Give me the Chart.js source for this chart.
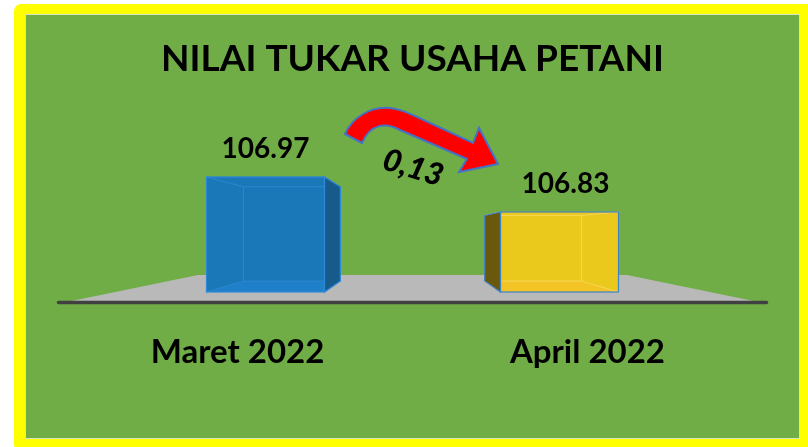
<!DOCTYPE html>
<html>
<head>
<meta charset="utf-8">
<script src="https://cdn.jsdelivr.net/npm/chart.js@4.4.1/dist/chart.umd.min.js"></script>
<style>
  html, body { margin: 0; padding: 0; background: #fff; }
  #wrap { width: 808px; height: 447px; }
</style>
</head>
<body>
<div id="wrap"><canvas id="ntup" width="808" height="447"></canvas></div>
<script>
// ---- data ----
const chartTitle = "NILAI TUKAR USAHA PETANI";
const periods = ["Maret 2022", "April 2022"];
const ntupValues = [106.97, 106.83];
const changeLabel = "0,13";
const axisMin = 106.51;
const axisMax = 107.2;

// ---- look ----
const FONT = "Lato, 'Open Sans', sans-serif";
const faces = [
  { front: "#1a78b9", side: "#165b89", bottom: "#1f80c9", inner: "#2b86cf", edge: "#2f88d6" },
  { front: "#eac81c", side: "#6a580c", bottom: "#f3c425", inner: "#f6d75a", edge: "#3f82cc" }
];
const DEPTH = 0.82; // back face scale towards vanishing point

// vanishing point sits between the two bars, a bit above the base
function vanish(chart) {
  const pts = chart.getDatasetMeta(0).data;
  return { x: (pts[0].x + pts[1].x) / 2, y: chart.scales.y.bottom - 61 };
}

const scenePlugin = {
  id: "scene",
  beforeDraw(chart) {
    const ctx = chart.ctx;
    const V = vanish(chart);
    const base = chart.scales.y.bottom;
    ctx.save();
    ctx.fillStyle = "#ffffff";
    ctx.fillRect(0, 0, chart.width, chart.height);

    // yellow frame + green panel
    ctx.fillStyle = "#ffff00";
    ctx.beginPath();
    ctx.roundRect(14, 4, chart.width, chart.height, 7);
    ctx.fill();
    ctx.fillStyle = "#70ad47";
    ctx.fillRect(25, 14, 775, 425);
    ctx.strokeStyle = "rgba(235,245,225,0.8)";
    ctx.lineWidth = 1;
    ctx.strokeRect(25.5, 14.5, 774, 424);

    // title
    ctx.fillStyle = "#000";
    ctx.font = "bold 37px " + FONT;
    ctx.textAlign = "center";
    ctx.textBaseline = "alphabetic";
    ctx.fillText(chartTitle, V.x, 71);

    // floor in perspective
    const botY = base + 10, topY = base - 17;
    const half = 346;
    const t = (topY - V.y) / (botY - V.y);
    ctx.fillStyle = "#b9b9b9";
    ctx.beginPath();
    ctx.moveTo(V.x - half, botY);
    ctx.lineTo(V.x - half * t, topY);
    ctx.lineTo(V.x + half * t, topY);
    ctx.lineTo(V.x + half, botY);
    ctx.closePath();
    ctx.fill();
    ctx.strokeStyle = "#404040";
    ctx.lineWidth = 3.5;
    ctx.lineCap = "round";
    ctx.beginPath();
    ctx.moveTo(V.x - 354, botY + 0.5);
    ctx.lineTo(V.x + 354, botY + 0.5);
    ctx.stroke();
    ctx.restore();
  },
  afterDatasetsDraw(chart) {
    const ctx = chart.ctx;
    const V = vanish(chart);
    const meta = chart.getDatasetMeta(0);
    ctx.save();
    meta.data.forEach((bar, i) => {
      const p = bar.getProps(["x", "y", "base", "width"], true);
      const c = faces[i];
      const L = p.x - p.width / 2, R = p.x + p.width / 2;
      const T = p.y, B = Math.min(p.base, chart.scales.y.bottom);
      const px = (x) => V.x + DEPTH * (x - V.x);
      const py = (y) => V.y + DEPTH * (y - V.y);
      const bL = px(L), bR = px(R), bT = py(T), bB = py(B);

      // bottom face seen through the front
      ctx.fillStyle = c.bottom;
      ctx.beginPath();
      ctx.moveTo(L, B); ctx.lineTo(R, B); ctx.lineTo(bR, bB); ctx.lineTo(bL, bB);
      ctx.closePath();
      ctx.fill();

      // inner edges
      ctx.strokeStyle = c.inner;
      ctx.lineWidth = 1;
      ctx.strokeRect(bL, bT, bR - bL, bB - bT);
      ctx.beginPath();
      ctx.moveTo(L, T); ctx.lineTo(bL, bT);
      ctx.moveTo(L, B); ctx.lineTo(bL, bB);
      ctx.moveTo(R, T); ctx.lineTo(bR, bT);
      ctx.moveTo(R, B); ctx.lineTo(bR, bB);
      ctx.stroke();

      // visible side face
      const sx = p.x < V.x ? R : L;
      const bsx = p.x < V.x ? bR : bL;
      ctx.fillStyle = c.side;
      ctx.beginPath();
      ctx.moveTo(sx, T); ctx.lineTo(bsx, bT); ctx.lineTo(bsx, bB); ctx.lineTo(sx, B);
      ctx.closePath();
      ctx.fill();
      ctx.strokeStyle = c.edge;
      ctx.lineWidth = 1.2;
      ctx.stroke();

      // front outline
      ctx.strokeRect(L, T, R - L, B - T);

      // value label
      ctx.fillStyle = "#000";
      ctx.font = "bold 28px " + FONT;
      ctx.textAlign = "center";
      ctx.fillText(ntupValues[i].toFixed(2), p.x + (i === 1 ? 6 : 0), T - 19);

      // period label, pushed outward in perspective
      ctx.font = "bold 33px " + FONT;
      ctx.fillText(periods[i], V.x + (p.x - V.x) * 1.19, B + 71);
    });

    // red curved arrow between the bars
    ctx.translate(V.x - 412.5, V.y - 231);
    ctx.beginPath();
    ctx.moveTo(345, 134);
    ctx.bezierCurveTo(352, 118, 370, 106, 390, 108);
    ctx.bezierCurveTo(400, 109, 408, 113, 415, 116);
    ctx.lineTo(473, 143);
    ctx.lineTo(479, 128);
    ctx.lineTo(498, 164);
    ctx.lineTo(459, 172);
    ctx.lineTo(467, 159);
    ctx.lineTo(400, 130);
    ctx.bezierCurveTo(385, 122, 370, 124, 362, 143);
    ctx.closePath();
    ctx.fillStyle = "#ff0000";
    ctx.fill();
    ctx.strokeStyle = "#4472c4";
    ctx.lineWidth = 2;
    ctx.lineJoin = "miter";
    ctx.stroke();

    // change value, tilted along the arrow
    ctx.translate(413, 168);
    ctx.rotate(17 * Math.PI / 180);
    ctx.fillStyle = "#000";
    ctx.font = "italic 900 31px " + FONT;
    ctx.textAlign = "center";
    ctx.textBaseline = "middle";
    ctx.fillText(changeLabel, 0, 0);
    ctx.restore();
  }
};

new Chart(document.getElementById("ntup"), {
  type: "bar",
  data: {
    labels: periods,
    datasets: [{
      label: "NTUP",
      data: ntupValues,
      base: axisMin,
      backgroundColor: faces.map((f) => f.front),
      borderWidth: 0,
      barThickness: 118
    }]
  },
  options: {
    responsive: false,
    animation: false,
    layout: { padding: { left: 118.5, right: 101.5, top: 119.5, bottom: 155 } },
    plugins: {
      legend: { display: false },
      tooltip: { enabled: false },
      title: { display: false }
    },
    scales: {
      x: { display: false, offset: true, grid: { display: false } },
      y: { display: false, min: axisMin, max: axisMax }
    }
  },
  plugins: [scenePlugin]
});
</script>
</body>
</html>
